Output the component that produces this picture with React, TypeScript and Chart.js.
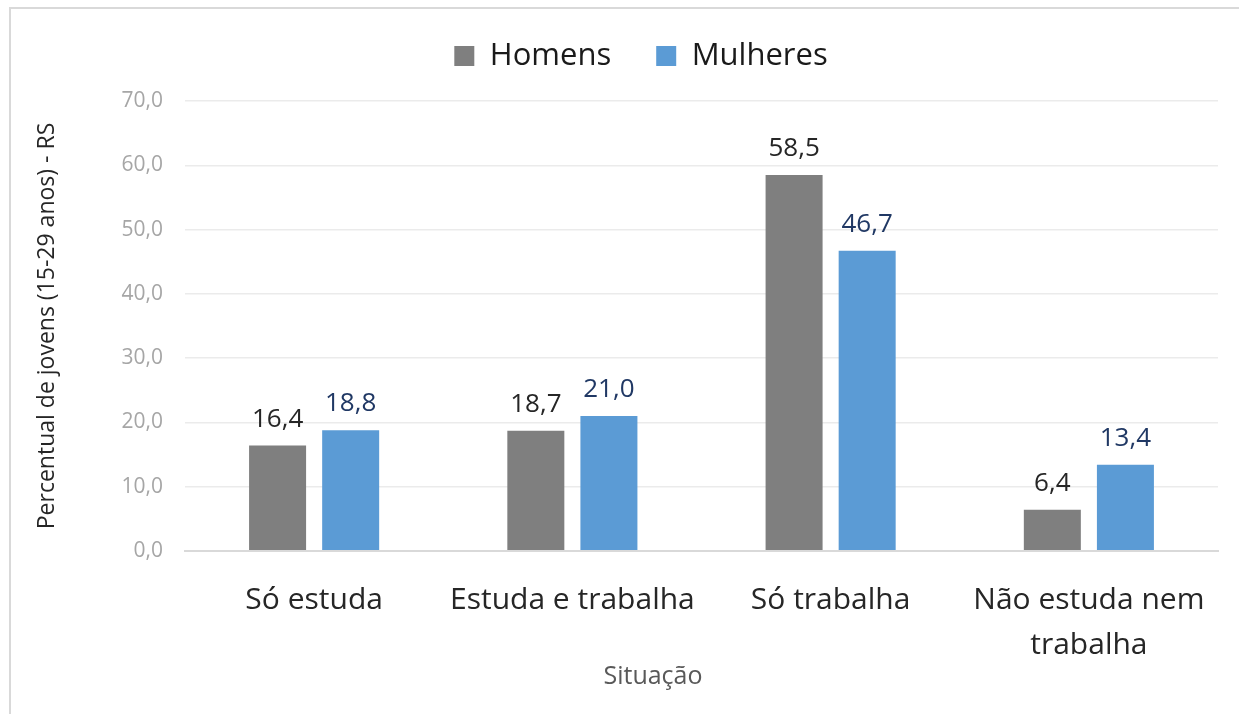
import React, { useEffect, useRef } from "react";
import { Chart, registerables } from "chart.js";

Chart.register(...registerables);

const categories: (string | string[])[] = [
  "Só estuda",
  "Estuda e trabalha",
  "Só trabalha",
  ["Não estuda nem", "trabalha"],
];
const homens = [16.4, 18.7, 58.5, 6.4];
const mulheres = [18.8, 21.0, 46.7, 13.4];
const seriesNames = ["Homens", "Mulheres"];
const yTicksMax = 70;
const yTicksStep = 10;

const FONT = "'Open Sans', 'Noto Sans', sans-serif";
const fmt = (v: number) => v.toFixed(1).replace(".", ",");

const labelColors = ["#262626", "#203864"];

const dataLabelsPlugin = {
  id: "dataLabels",
  afterDatasetsDraw(chart: any) {
    const ctx = chart.ctx;
    ctx.save();
    ctx.font = `26px ${FONT}`;
    ctx.textAlign = "center";
    ctx.textBaseline = "alphabetic";
    chart.data.datasets.forEach((ds: any, di: number) => {
      const meta = chart.getDatasetMeta(di);
      ctx.fillStyle = labelColors[di];
      meta.data.forEach((el: any, i: number) => {
        ctx.fillText(fmt(ds.data[i]), el.x, el.y - 19);
      });
    });
    ctx.restore();
  },
};

const layoutTweak = {
  id: "layoutTweak",
  beforeInit(chart: any) {
    const lg = chart.legend;
    if (!lg) return;
    const orig = lg.fit;
    lg.fit = function () {
      orig.call(lg);
      this.height += 15;
    };
  },
  afterLayout(chart: any) {
    const lg = chart.legend;
    if (lg) {
      lg.left += 28;
      lg.right += 28;
      lg.top -= 4.5;
      lg.bottom -= 4.5;
    }
    const tb = chart.titleBlock;
    if (tb) {
      tb.left += 40;
      tb.right += 40;
    }
  },
};

export default function App() {
  const ref = useRef<HTMLCanvasElement | null>(null);
  useEffect(() => {
    if (!ref.current) return;
    const chart = new Chart(ref.current, {
      type: "bar",
      data: {
        labels: categories,
        datasets: [
          {
            label: seriesNames[0],
            data: homens,
            backgroundColor: "#7f7f7f",
            categoryPercentage: 0.566,
            barPercentage: 0.78,
          },
          {
            label: seriesNames[1],
            data: mulheres,
            backgroundColor: "#5b9bd5",
            categoryPercentage: 0.566,
            barPercentage: 0.78,
          },
        ],
      },
      options: {
        animation: false,
        responsive: false,
        layout: { padding: { left: 8, top: 0, right: 21, bottom: 0 } },
        plugins: {
          legend: {
            position: "top",
            labels: {
              boxWidth: 20,
              boxHeight: 20,
              padding: 45,
              color: "#1a1a1a",
              font: { family: FONT, size: 31 },
            },
          },
          tooltip: { enabled: false },
          title: {
            display: true,
            position: "bottom",
            text: "Situação",
            color: "#595959",
            font: { family: FONT, size: 25, lineHeight: 1.2, weight: "normal" },
            padding: { top: 0, bottom: 22 },
          },
        },
        scales: {
          x: {
            grid: { display: false, drawTicks: false },
            border: { display: true, color: "#d9d9d9", width: 2 },
            ticks: {
              padding: 26.5,
              color: "#262626",
              font: { family: FONT, size: 30, lineHeight: 1.5 },
              maxRotation: 0,
              autoSkip: false,
            },
            afterFit(scale: any) {
              scale.height = 111;
            },
          },
          y: {
            min: 0,
            max: yTicksMax,
            grid: {
              drawTicks: false,
              color: (c: any) => (c.tick && c.tick.value === 0 ? "#d9d9d9" : "#ebebeb"),
              lineWidth: (c: any) => (c.tick && c.tick.value === 0 ? 2 : 1.5),
            },
            border: { display: false },
            ticks: {
              stepSize: yTicksStep,
              padding: 22,
              color: "#a6a6a6",
              font: { family: FONT, size: 21 },
              callback: (v: any) => fmt(Number(v)),
            },
            title: {
              display: true,
              text: "Percentual de jovens (15-29 anos) - RS",
              color: "#262626",
              font: { family: FONT, size: 23, lineHeight: 1.2 },
              padding: { top: 26, bottom: 0 },
            },
            afterFit(scale: any) {
              scale.width = 177;
            },
          },
        },
      },
      plugins: [dataLabelsPlugin, layoutTweak],
    });
    return () => chart.destroy();
  }, []);

  return (
    <div
      style={{
        position: "fixed",
        left: 0,
        top: 0,
        width: 1239,
        height: 714,
        overflow: "hidden",
        background: "#ffffff",
      }}
    >
      <div
        style={{
          position: "absolute",
          left: 9,
          top: 7,
          width: 1300,
          height: 800,
          border: "2px solid #d9d9d9",
          boxSizing: "border-box",
        }}
      />
      <canvas
        ref={ref}
        width={1239}
        height={714}
        style={{ position: "absolute", left: 0, top: 0, width: 1239, height: 714 }}
      />
    </div>
  );
}
